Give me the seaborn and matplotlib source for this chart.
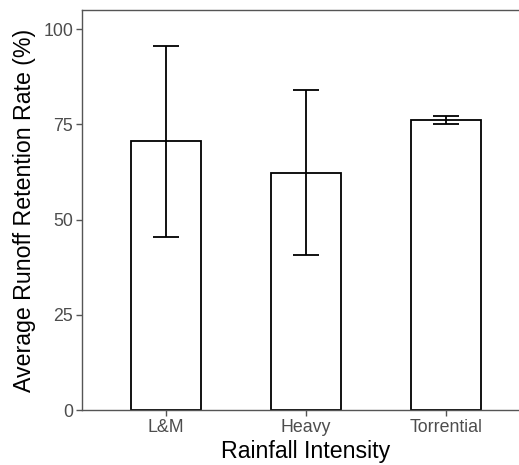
import matplotlib
matplotlib.use("Agg")
from matplotlib import pyplot as plt
import seaborn as sns
import pandas as pd
import numpy as np

categories = ['L&M', 'Heavy', 'Torrential']
mean_rate = [70.5, 62.3, 76.2]
err_low = [45.4, 40.7, 75.1]
err_high = [95.6, 84.0, 77.2]

sns.set_style("white")
plt.rcParams['font.family'] = ['Liberation Sans', 'DejaVu Sans']

df = pd.DataFrame({'intensity': categories, 'rate': mean_rate})

fig = plt.figure(figsize=(5.19, 4.65), dpi=100)
ax = fig.add_axes([82 / 519, 55 / 465, 448 / 519, 400 / 465])

sns.barplot(data=df, x='intensity', y='rate', order=categories, width=0.5,
            color='white', edgecolor='black', linewidth=1.3, errorbar=None, ax=ax)

yerr = np.array([np.array(mean_rate) - np.array(err_low),
                 np.array(err_high) - np.array(mean_rate)])
ax.errorbar(np.arange(len(categories)), mean_rate, yerr=yerr, fmt='none',
            ecolor='black', elinewidth=1.3, capsize=9.6, capthick=1.3)

ax.set_xlim(-0.6, 2.6)
ax.set_ylim(0, 105)
ax.set_yticks([0, 25, 50, 75, 100])

for s in ['top', 'left', 'bottom']:
    ax.spines[s].set_visible(True)
    ax.spines[s].set_color('#555555')
    ax.spines[s].set_linewidth(1.0)
ax.spines['right'].set_visible(False)

ax.tick_params(axis='both', which='major', direction='out', length=4.3, width=1.0,
               color='#555555', labelcolor='#4d4d4d', labelsize=12.8, pad=2,
               bottom=True, left=True)

ax.set_xlabel('Rainfall Intensity', fontsize=16.7, color='black', labelpad=3)
ax.set_ylabel('Average Runoff Retention Rate (%)', fontsize=16.7, color='black', labelpad=5)

fig.savefig('out.png', dpi=100)
